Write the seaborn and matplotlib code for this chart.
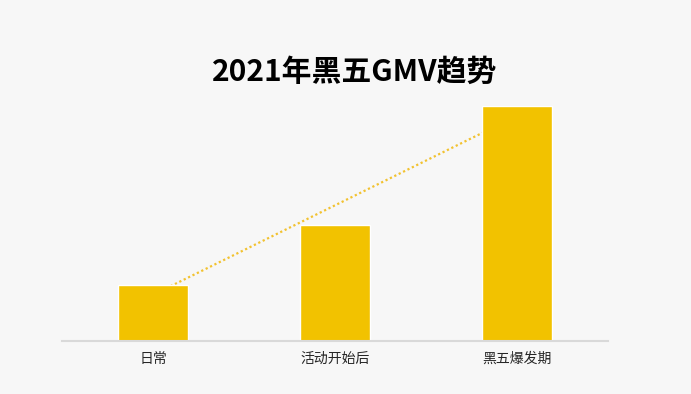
import numpy as np
import pandas as pd
import matplotlib
matplotlib.use("Agg")
import matplotlib.pyplot as plt
import seaborn as sns

categories = ["日常", "活动开始后", "黑五爆发期"]
gmv = [56, 116, 235]
title = "2021年黑五GMV趋势"

sns.set_theme(style="white")
plt.rcParams['font.family'] = ['Noto Sans CJK SC', 'DejaVu Sans']

bg = "#F7F7F7"
bar_color = "#F2C200"

fig = plt.figure(figsize=(6.91, 3.94), dpi=100, facecolor=bg)
ax = fig.add_axes([62/691, 53/394, 546/691, 235/394], facecolor=bg)

df = pd.DataFrame({"cat": categories, "gmv": gmv})

# linear trendline (Excel style) drawn behind the bars
xs = np.arange(len(categories))
k, b = np.polyfit(xs, gmv, 1)
ax.plot([xs[0], xs[-1]], [k * xs[0] + b, k * xs[-1] + b], linestyle=(0, (1, 1.2)),
        color="#F2C230", linewidth=1.6, zorder=1)

sns.barplot(data=df, x="cat", y="gmv", color=bar_color, saturation=1, width=0.38,
            ax=ax, zorder=2)

ax.set_xlim(-0.5, 2.5)
ax.set_ylim(0, 235)
ax.set_xlabel("")
ax.set_ylabel("")
ax.set_yticks([])
for s in ["top", "right", "left"]:
    ax.spines[s].set_visible(False)
ax.spines["bottom"].set_color("#D9D9D9")
ax.spines["bottom"].set_linewidth(1.5)
ax.spines["bottom"].set_zorder(3)
ax.tick_params(axis="x", length=0, pad=8, labelsize=10, labelcolor="#262626")

fig.text(355/691, 1 - 72/394, title, ha="center", va="center", fontsize=21.5,
         fontweight="bold", color="#000000")

fig.savefig("out.png", dpi=100, facecolor=bg)
